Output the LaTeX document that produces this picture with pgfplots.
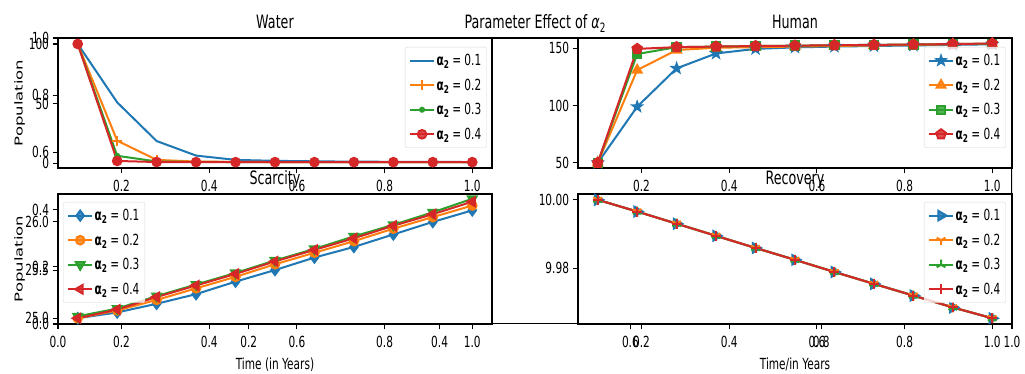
\documentclass[border=0pt]{standalone}
\usepackage{fontspec}
\setmainfont{DejaVu Sans}[FakeStretch=0.69]
\newfontfamily\plainfont{DejaVu Sans}
\usepackage{graphicx}
\usepackage{pgfplots}
\pgfplotsset{compat=1.18}
\definecolor{c1}{HTML}{1F77B4}
\definecolor{c2}{HTML}{FF7F0E}
\definecolor{c3}{HTML}{2CA02C}
\definecolor{c4}{HTML}{D62728}
\newcommand\fs[1]{\fontsize{#1}{#1}\selectfont}
\newcommand\sub[1]{\raisebox{-0.35ex}{\scalebox{0.7}{#1}}}
\newcommand\ylab[1]{\scalebox{0.66}[1]{\rotatebox{90}{\plainfont\fs{16.5}#1}}}
\pgfdeclareplotmark{fstar}{%
  \pgfpathmoveto{\pgfpointpolar{90}{\pgfplotmarksize}}%
  \pgfpathlineto{\pgfpointpolar{126}{0.4\pgfplotmarksize}}%
  \pgfpathlineto{\pgfpointpolar{162}{\pgfplotmarksize}}%
  \pgfpathlineto{\pgfpointpolar{198}{0.4\pgfplotmarksize}}%
  \pgfpathlineto{\pgfpointpolar{234}{\pgfplotmarksize}}%
  \pgfpathlineto{\pgfpointpolar{270}{0.4\pgfplotmarksize}}%
  \pgfpathlineto{\pgfpointpolar{306}{\pgfplotmarksize}}%
  \pgfpathlineto{\pgfpointpolar{342}{0.4\pgfplotmarksize}}%
  \pgfpathlineto{\pgfpointpolar{18}{\pgfplotmarksize}}%
  \pgfpathlineto{\pgfpointpolar{54}{0.4\pgfplotmarksize}}%
  \pgfpathclose\pgfusepathqfillstroke}
\pgfdeclareplotmark{tridown}{%
  \pgfpathmoveto{\pgfpointorigin}\pgfpathlineto{\pgfpointpolar{270}{\pgfplotmarksize}}%
  \pgfpathmoveto{\pgfpointorigin}\pgfpathlineto{\pgfpointpolar{30}{\pgfplotmarksize}}%
  \pgfpathmoveto{\pgfpointorigin}\pgfpathlineto{\pgfpointpolar{150}{\pgfplotmarksize}}%
  \pgfusepathqstroke}
\pgfdeclareplotmark{triup}{%
  \pgfpathmoveto{\pgfpointorigin}\pgfpathlineto{\pgfpointpolar{90}{\pgfplotmarksize}}%
  \pgfpathmoveto{\pgfpointorigin}\pgfpathlineto{\pgfpointpolar{210}{\pgfplotmarksize}}%
  \pgfpathmoveto{\pgfpointorigin}\pgfpathlineto{\pgfpointpolar{330}{\pgfplotmarksize}}%
  \pgfusepathqstroke}
\pgfplotsset{
  base/.style={
    scale only axis, anchor=south west,
    tick pos=left, tick align=outside,
    major tick length=5.5pt,
    every tick/.style={black, line width=1.1pt},
    axis line style={line width=1.1pt},
    tick label style={font=\fs{15.3}},
    xticklabel style={yshift=-3pt},
    /pgf/number format/assume math mode=true,
    every axis title shift=0pt,
    title style={font=\fs{18.4}, at={(0.5,1)}, anchor=base, yshift=9.5pt, inner sep=0pt},
    label style={font=\fs{15.3}},
  },
  sub/.style={base,
    width=434pt, height=130pt,
    axis background/.style={fill=white},
    xmin=0.055, xmax=1.045,
    xtick={0.2,0.4,0.6,0.8,1},
    xticklabel style={/pgf/number format/.cd, fixed, fixed zerofill, precision=1},
    legend cell align=left,
    legend style={font=\fs{15.3}, draw=black!15, rounded corners=2pt,
      fill=white, fill opacity=0.8, draw opacity=1, text opacity=1,
      inner xsep=4pt, inner ysep=5.5pt, row sep=8.7pt,
      nodes={inner sep=1.5pt}},
    legend image code/.code={\draw[mark repeat=2,mark phase=2,##1] plot coordinates {(0pt,0pt) (12pt,0pt) (24pt,0pt)};},
    every axis plot/.append style={line width=2pt},
    ylabel style={at={([xshift=-33pt]rel axis cs:0,0.5)}, rotate=-90, anchor=east, inner sep=0pt},
  },
}
\begin{document}
\begin{tikzpicture}
\useasboundingbox (0,0) rectangle (1025pt,374pt);
% background axes
\begin{axis}[base, width=954pt, height=286pt, at={(58pt,50pt)},
  xmin=0, xmax=1, ymin=0, ymax=1,
  xtick={0,0.2,0.4,0.6,0.8,1}, ytick={0,0.2,0.4,0.6,0.8,1},
  xticklabel style={/pgf/number format/.cd, fixed, fixed zerofill, precision=1},
  yticklabel style={/pgf/number format/.cd, fixed, fixed zerofill, precision=1},
  axis line style={draw=none},
  title={Parameter Effect of \textit{α}\sub{2}}]
\draw[line width=1.1pt] (rel axis cs:0,1) -- (rel axis cs:1,1) -- (rel axis cs:1,0) -- (rel axis cs:0,0);
\end{axis}
% Water
\begin{axis}[sub, at={(58pt,206pt)}, ymin=-4, ymax=105, ytick={0,50,100},
  title={Water}, ylabel={\ylab{Population}},
  legend style={at={(1,1)}, anchor=north east, xshift=-5pt, yshift=-9pt}]
\addplot[c1] coordinates {(0.1,100) (0.19,51) (0.28,18.6) (0.37,6.4) (0.46,2.8) (0.55,2.0) (0.64,1.6) (0.73,1.3) (0.82,1.2) (0.91,1.1) (1.0,1.0)};
\addlegendentry{\textbf{α\sub{2}} = 0.1}
\addplot[c2, mark=+, mark size=5pt] coordinates {(0.1,100) (0.19,18.9) (0.28,2.8) (0.37,1.4) (0.46,1.1) (0.55,1.0) (0.64,1.0) (0.73,1.0) (0.82,1.0) (0.91,1.0) (1.0,1.0)};
\addlegendentry{\textbf{α\sub{2}} = 0.2}
\addplot[c3, mark=*, mark size=2pt] coordinates {(0.1,100) (0.19,6.2) (0.28,1.5) (0.37,1.1) (0.46,1.0) (0.55,1.0) (0.64,1.0) (0.73,1.0) (0.82,1.0) (0.91,1.0) (1.0,1.0)};
\addlegendentry{\textbf{α\sub{2}} = 0.3}
\addplot[c4, mark=*, mark size=4.3pt] coordinates {(0.1,100) (0.19,1.9) (0.28,1.0) (0.37,0.9) (0.46,0.9) (0.55,0.9) (0.64,0.9) (0.73,0.9) (0.82,0.9) (0.91,0.9) (1.0,0.9)};
\addlegendentry{\textbf{α\sub{2}} = 0.4}
\end{axis}
% Human
\begin{axis}[sub, at={(578pt,206pt)}, ymin=45.5, ymax=159, ytick={50,100,150},
  title={Human},
  legend style={at={(1,1)}, anchor=north east, xshift=-6pt, yshift=-9pt}]
\addplot[c1, mark=fstar, mark size=4.5pt] coordinates {(0.1,50) (0.19,99) (0.28,132.5) (0.37,145.5) (0.46,149.5) (0.55,150.8) (0.64,151.5) (0.73,152) (0.82,152.5) (0.91,153) (1.0,153.5)};
\addlegendentry{\textbf{α\sub{2}} = 0.1}
\addplot[c2, mark=triangle*, mark size=5pt] coordinates {(0.1,50) (0.19,131) (0.28,148.5) (0.37,150.5) (0.46,151) (0.55,151.5) (0.64,152) (0.73,152.5) (0.82,153) (0.91,153.5) (1.0,154)};
\addlegendentry{\textbf{α\sub{2}} = 0.2}
\addplot[c3, mark=square*, mark size=4.2pt] coordinates {(0.1,50) (0.19,145) (0.28,151) (0.37,151.5) (0.46,152) (0.55,152.3) (0.64,152.7) (0.73,153) (0.82,153.3) (0.91,153.7) (1.0,154)};
\addlegendentry{\textbf{α\sub{2}} = 0.3}
\addplot[c4, mark=pentagon*, mark size=5pt] coordinates {(0.1,50) (0.19,149.5) (0.28,151) (0.37,151.5) (0.46,152) (0.55,152.3) (0.64,152.7) (0.73,153) (0.82,153.3) (0.91,153.7) (1.0,154.2)};
\addlegendentry{\textbf{α\sub{2}} = 0.4}
\end{axis}
% Scarcity
\begin{axis}[sub, at={(58pt,50pt)}, ymin=24.94, ymax=26.29, ytick={25,25.5,26},
  yticklabel style={/pgf/number format/.cd, fixed, fixed zerofill, precision=1},
  title={Scarcity}, ylabel={\ylab{Population}}, xlabel={Time (in Years)},
  xlabel style={at={(0.5,0)}, anchor=base, yshift=-46pt, inner sep=0pt},
  legend style={at={(0,1)}, anchor=north west, xshift=5pt, yshift=-8pt}]
\addplot[c1, mark=diamond*, mark size=5pt] coordinates {(0.1,25.0) (0.19,25.06) (0.28,25.15) (0.37,25.25) (0.46,25.38) (0.55,25.5) (0.64,25.63) (0.73,25.74) (0.82,25.87) (0.91,26.0) (1.0,26.12)};
\addlegendentry{\textbf{α\sub{2}} = 0.1}
\addplot[c2, mark=*, mark size=4.3pt] coordinates {(0.1,25.0) (0.19,25.08) (0.28,25.19) (0.37,25.31) (0.46,25.43) (0.55,25.56) (0.64,25.68) (0.73,25.8) (0.82,25.93) (0.91,26.05) (1.0,26.17)};
\addlegendentry{\textbf{α\sub{2}} = 0.2}
\addplot[c3, mark=triangle*, mark size=5pt, mark options={rotate=180}] coordinates {(0.1,25.02) (0.19,25.1) (0.28,25.23) (0.37,25.35) (0.46,25.47) (0.55,25.6) (0.64,25.72) (0.73,25.85) (0.82,25.97) (0.91,26.1) (1.0,26.24)};
\addlegendentry{\textbf{α\sub{2}} = 0.3}
\addplot[c4, mark=triangle*, mark size=5pt, mark options={rotate=90}] coordinates {(0.1,25.0) (0.19,25.09) (0.28,25.22) (0.37,25.34) (0.46,25.46) (0.55,25.59) (0.64,25.71) (0.73,25.83) (0.82,25.96) (0.91,26.08) (1.0,26.21)};
\addlegendentry{\textbf{α\sub{2}} = 0.4}
\end{axis}
% Recovery
\begin{axis}[sub, at={(578pt,50pt)}, ymin=9.9637, ymax=10.0017, ytick={9.98,10},
  yticklabel style={/pgf/number format/.cd, fixed, fixed zerofill, precision=2},
  title={Recovery}, xlabel={Time/in Years},
  xlabel style={at={(0.5,0)}, anchor=base, yshift=-46pt, inner sep=0pt},
  legend style={at={(1,1)}, anchor=north east, xshift=-6pt, yshift=-8pt}]
\addplot[c1, mark=triangle*, mark size=5.5pt, mark options={rotate=-90}] coordinates {(0.1,10.0) (0.19,9.99657) (0.28,9.99302) (0.37,9.98947) (0.46,9.98592) (0.55,9.98246) (0.64,9.97891) (0.73,9.97544) (0.82,9.97201) (0.91,9.96855) (1.0,9.96538)};
\addlegendentry{\textbf{α\sub{2}} = 0.1}
\addplot[c2, mark=tridown, mark size=5pt] coordinates {(0.1,10.0) (0.19,9.99657) (0.28,9.99302) (0.37,9.98947) (0.46,9.98592) (0.55,9.98246) (0.64,9.97891) (0.73,9.97544) (0.82,9.97201) (0.91,9.96855) (1.0,9.96538)};
\addlegendentry{\textbf{α\sub{2}} = 0.2}
\addplot[c3, mark=triup, mark size=5pt] coordinates {(0.1,10.0) (0.19,9.99657) (0.28,9.99302) (0.37,9.98947) (0.46,9.98592) (0.55,9.98246) (0.64,9.97891) (0.73,9.97544) (0.82,9.97201) (0.91,9.96855) (1.0,9.96538)};
\addlegendentry{\textbf{α\sub{2}} = 0.3}
\addplot[c4, mark=+, mark size=5pt] coordinates {(0.1,10.0) (0.19,9.99657) (0.28,9.99302) (0.37,9.98947) (0.46,9.98592) (0.55,9.98246) (0.64,9.97891) (0.73,9.97544) (0.82,9.97201) (0.91,9.96855) (1.0,9.96538)};
\addlegendentry{\textbf{α\sub{2}} = 0.4}
\end{axis}
\end{tikzpicture}
\end{document}
